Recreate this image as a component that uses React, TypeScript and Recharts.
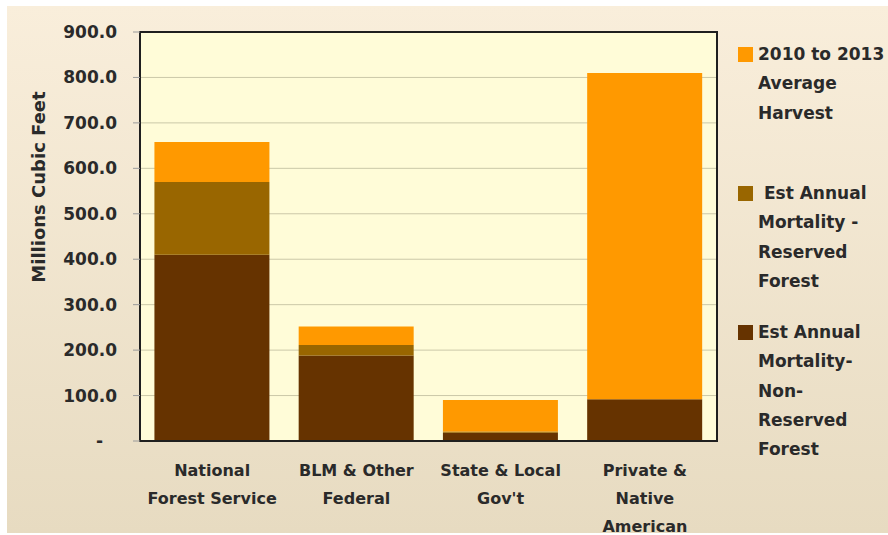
import { BarChart, Bar, XAxis, YAxis, CartesianGrid, Legend, usePlotArea } from "recharts";

const categories = [
  "National\nForest Service",
  "BLM & Other\nFederal",
  "State & Local\nGov't",
  "Private &\nNative\nAmerican",
];
const nonReserved = [410, 188, 18, 92];
const reserved = [160, 23, 3, 0];
const harvest = [88, 41, 69, 718];
const yTicks = [0, 100, 200, 300, 400, 500, 600, 700, 800, 900];

const series = [
  { key: "nonReserved", name: "Est Annual\nMortality-\nNon-\nReserved\nForest", color: "#663300" },
  { key: "reserved", name: " Est Annual\nMortality -\nReserved\nForest", color: "#996600" },
  { key: "harvest", name: "2010 to 2013\nAverage\nHarvest", color: "#FF9900" },
];

const data = categories.map((c, i) => ({
  name: c,
  nonReserved: nonReserved[i],
  reserved: reserved[i],
  harvest: harvest[i],
}));

const FONT = "'DejaVu Sans', sans-serif";
const TEXT = "#2a2a2a";

function Frame() {
  const area = usePlotArea();
  if (!area) return null;
  return <rect x={area.x} y={area.y} width={area.width} height={area.height} fill="none" stroke="#1f1f1f" strokeWidth={2} />;
}

function YTick({ x, y, payload }: any) {
  const isZero = payload.value === 0;
  return (
    <text x={isZero ? x - 14 : x} y={y} textAnchor="end" dominantBaseline="central" fontFamily={FONT} fontWeight="bold" fontSize={17} fill={TEXT}>
      {isZero ? "-" : payload.value.toFixed(1)}
    </text>
  );
}

function XTick({ x, y, payload }: any) {
  const lines = String(payload.value).split("\n");
  return (
    <text x={x} y={y + 27} textAnchor="middle" fontFamily={FONT} fontWeight="bold" fontSize={16} fill={TEXT}>
      {lines.map((l, i) => (
        <tspan key={i} x={x} dy={i === 0 ? 0 : 28}>{l}</tspan>
      ))}
    </text>
  );
}

function LegendBox() {
  const items = [...series].reverse();
  return (
    <div style={{ fontFamily: FONT, fontWeight: "bold", fontSize: 17, color: TEXT }}>
      {items.map((s) => (
        <div key={s.key} style={{ position: "relative", height: 139, paddingLeft: 20, lineHeight: "29.3px", whiteSpace: "pre" }}>
          <span style={{ position: "absolute", left: 0, top: 7, width: 15, height: 15, background: s.color }} />
          {s.name}
        </div>
      ))}
    </div>
  );
}

export default function App() {
  return (
    <div style={{ position: "relative", width: 888, height: 535, background: "#fff", overflow: "hidden" }}>
      <style>{"body{margin:0}"}</style>
      <div style={{ position: "absolute", left: 7, top: 6, right: 0, bottom: 2, background: "linear-gradient(#f9eedb, #e7dbc1)" }} />
      <div style={{ position: "absolute", left: 0, top: 0 }}>
        <BarChart width={888} height={535} data={data} barCategoryGap="10%" margin={{ top: 32, right: 171, bottom: 4, left: 60 }}>
          <CartesianGrid vertical={false} stroke="#cbc8a8" fill="#fffcd8" />
          <XAxis dataKey="name" interval={0} height={90} tick={<XTick />} tickLine={false} axisLine={{ stroke: "#1f1f1f", strokeWidth: 2 }} />
          <YAxis
            width={80}
            domain={[0, 900]}
            ticks={yTicks}
            tickSize={7}
            tickMargin={16}
            tick={<YTick />}
            tickLine={{ stroke: "#9a9a9a" }}
            axisLine={{ stroke: "#1f1f1f", strokeWidth: 2 }}
            label={{
              content: () => (
                <text x={38} y={187} transform="rotate(-90 38 187)" textAnchor="middle" dominantBaseline="central" fontFamily={FONT} fontWeight="bold" fontSize={18} fill={TEXT}>
                  Millions Cubic Feet
                </text>
              ),
            }}
          />
          <Legend layout="horizontal" align="center" verticalAlign="middle" width={148} wrapperStyle={{ left: 738, top: 40 }} content={<LegendBox />} />
          {series.map((s) => (
            <Bar key={s.key} dataKey={s.key} name={s.name} stackId="a" fill={s.color} isAnimationActive={false} />
          ))}
          <Frame />
        </BarChart>
      </div>
    </div>
  );
}
